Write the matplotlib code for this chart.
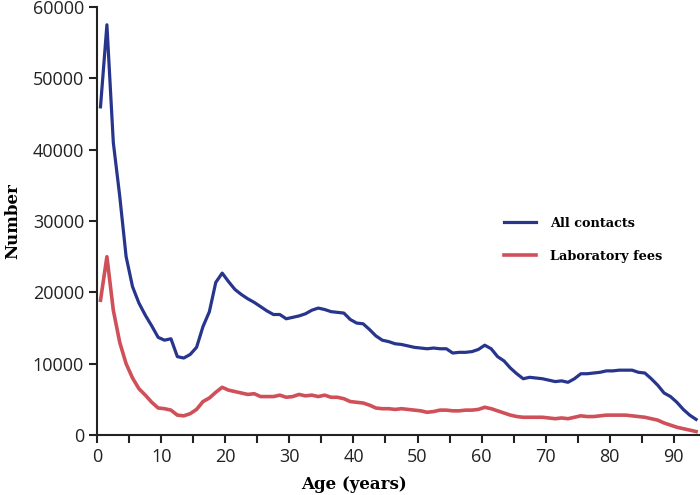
import numpy as np
import matplotlib
matplotlib.use("Agg")
import matplotlib.pyplot as plt

ages = np.arange(0.5, 94.5, 1.0)

all_contacts = [46000, 57500, 41000, 33500, 25000, 20800, 18500, 16800, 15300, 13700,
                13300, 13500, 11000, 10800, 11300, 12300, 15200, 17300, 21400, 22700,
                21500, 20400, 19700, 19100, 18600, 18000, 17400, 16900, 16900, 16300,
                16500, 16700, 17000, 17500, 17800, 17600, 17300, 17200, 17100, 16200,
                15700, 15600, 14800, 13900, 13300, 13100, 12800, 12700, 12500, 12300,
                12200, 12100, 12200, 12100, 12100, 11500, 11600, 11600, 11700, 12000,
                12600, 12100, 11000, 10400, 9400, 8600, 7900, 8100, 8000, 7900,
                7700, 7500, 7600, 7400, 7900, 8600, 8600, 8700, 8800, 9000,
                9000, 9100, 9100, 9100, 8800, 8700, 7900, 7000, 5900, 5400,
                4600, 3600, 2800, 2200]

lab_fees = [18900, 25000, 17500, 13000, 10000, 8000, 6500, 5600, 4600, 3800,
            3700, 3500, 2800, 2700, 3000, 3600, 4700, 5200, 6000, 6700,
            6300, 6100, 5900, 5700, 5800, 5400, 5400, 5400, 5600, 5300,
            5400, 5700, 5500, 5600, 5400, 5600, 5300, 5300, 5100, 4700,
            4600, 4500, 4200, 3800, 3700, 3700, 3600, 3700, 3600, 3500,
            3400, 3200, 3300, 3500, 3500, 3400, 3400, 3500, 3500, 3600,
            3900, 3700, 3400, 3100, 2800, 2600, 2500, 2500, 2500, 2500,
            2400, 2300, 2400, 2300, 2500, 2700, 2600, 2600, 2700, 2800,
            2800, 2800, 2800, 2700, 2600, 2500, 2300, 2100, 1700, 1400,
            1100, 900, 700, 500]

x_ticks = list(range(0, 95, 5))
x_labels = [str(t) if t % 10 == 0 else "" for t in x_ticks]
y_ticks = [0, 10000, 20000, 30000, 40000, 50000, 60000]

fig = plt.figure(figsize=(7.0, 4.95), dpi=100)
ax = fig.add_axes([0.139, 0.121, 0.860, 0.865])

ax.plot(ages, all_contacts, color="#27358C", lw=2.3, label="All contacts")
ax.plot(ages, lab_fees, color="#CF5058", lw=2.6, label="Laboratory fees")

ax.set_xlim(0, 94)
ax.set_ylim(0, 60000)
ax.set_xticks(x_ticks)
ax.set_xticklabels(x_labels)
ax.set_yticks(y_ticks)
for s in ["top", "right"]:
    ax.spines[s].set_visible(False)
for s in ["left", "bottom"]:
    ax.spines[s].set_linewidth(1.5)
    ax.spines[s].set_color("#222222")
ax.tick_params(axis="both", direction="out", length=6, width=1.5, colors="#222222",
               labelsize=13, labelcolor="#222222")
for lbl in ax.get_xticklabels() + ax.get_yticklabels():
    lbl.set_family("Open Sans")

ax.set_xlabel("Age (years)", family="DejaVu Serif", fontweight="bold", fontsize=12)
ax.xaxis.set_label_coords(0.427, -0.095)
ax.set_ylabel("Number", family="DejaVu Serif", fontweight="bold", fontsize=12, labelpad=8)

leg = ax.legend(loc="upper left", bbox_to_anchor=(0.656, 0.537), frameon=False,
                prop={"family": "DejaVu Serif", "weight": "bold", "size": 9.3},
                handlelength=2.5, labelspacing=1.55, handletextpad=1.1)

fig.savefig("out.png", dpi=100)
